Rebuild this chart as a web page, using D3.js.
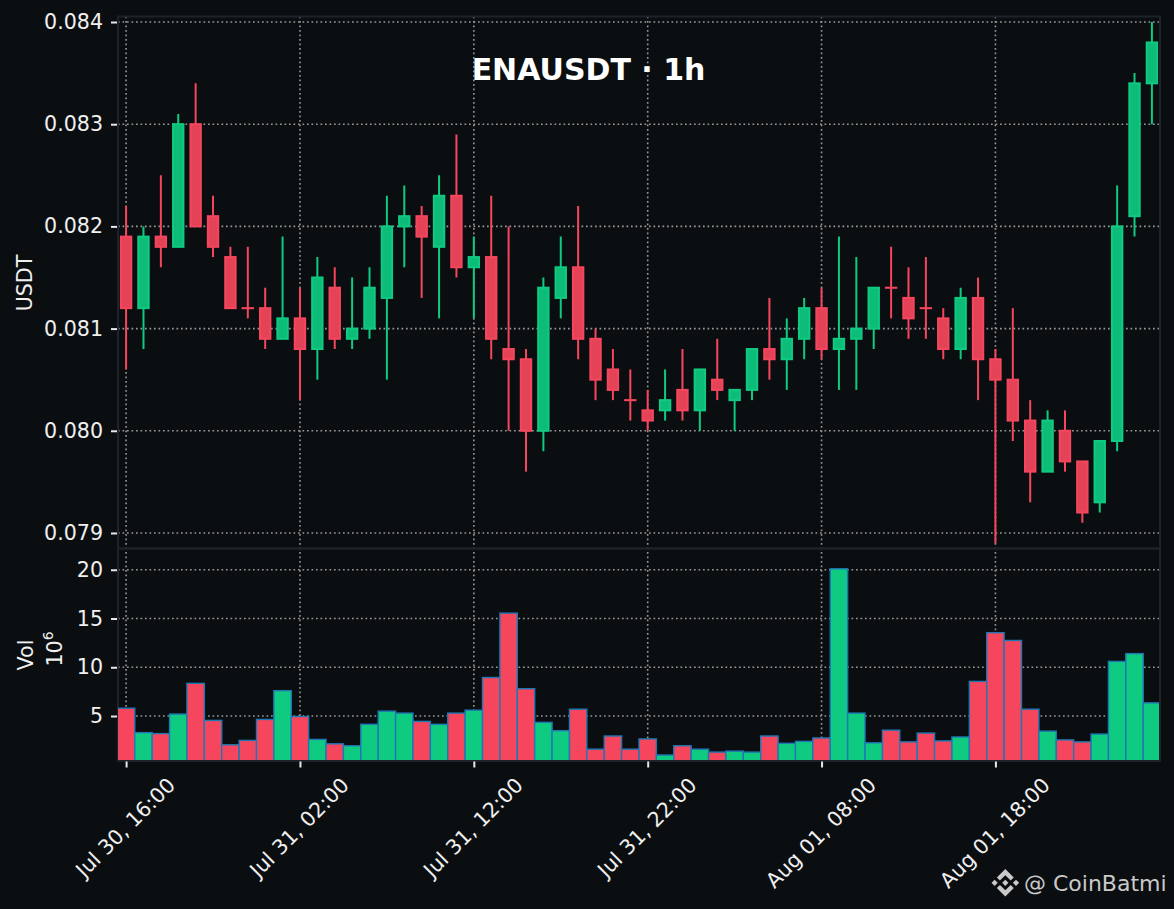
<!DOCTYPE html>
<html><head><meta charset="utf-8">
<script src="https://cdn.jsdelivr.net/npm/d3@7"></script>
<style>html,body{margin:0;padding:0;background:#0b0e11;overflow:hidden}svg{display:block}text{font-family:"DejaVu Sans",sans-serif}</style>
</head><body><div id="c"></div>
<script>
const startTime = "2024-07-30T16:00:00Z";
const opens = [.0819,.0812,.0819,.0818,.0830,.0821,.0817,.0812,.0812,.0809,.0811,.0808,.0814,.0809,.0810,.0813,.0820,.0821,.0818,.0823,.0816,.0817,.0808,.0807,.0800,.0813,.0816,.0809,.0806,.0803,.0802,.0802,.0804,.0802,.0805,.0803,.0804,.0808,.0807,.0809,.0812,.0808,.0809,.0810,.0814,.0813,.0812,.0811,.0808,.0813,.0807,.0805,.0801,.0796,.0800,.0797,.0793,.0799,.0821,.0834];
const highs = [.0822,.0820,.0825,.0831,.0834,.0823,.0818,.0818,.0814,.0819,.0814,.0817,.0816,.0815,.0816,.0823,.0824,.0822,.0825,.0829,.0819,.0823,.0820,.0808,.0815,.0819,.0822,.0810,.0808,.0806,.0804,.0806,.0808,.0806,.0809,.0804,.0808,.0813,.0811,.0813,.0814,.0819,.0817,.0814,.0818,.0816,.0817,.0812,.0814,.0815,.0808,.0812,.0803,.0802,.0802,.0797,.0799,.0824,.0835,.0840];
const lows = [.0806,.0808,.0816,.0818,.0820,.0817,.0812,.0811,.0808,.0809,.0803,.0805,.0808,.0808,.0809,.0805,.0816,.0813,.0811,.0815,.0811,.0807,.0800,.0796,.0798,.0811,.0807,.0803,.0803,.0801,.0800,.0801,.0801,.0800,.0803,.0800,.0803,.0805,.0804,.0807,.0807,.0804,.0804,.0808,.0811,.0809,.0809,.0807,.0807,.0803,.0789,.0799,.0793,.0796,.0796,.0791,.0792,.0798,.0819,.0830];
const closes = [.0812,.0819,.0818,.0830,.0820,.0818,.0812,.0812,.0809,.0811,.0808,.0815,.0809,.0810,.0814,.0820,.0821,.0819,.0823,.0816,.0817,.0809,.0807,.0800,.0814,.0816,.0809,.0805,.0804,.0803,.0801,.0803,.0802,.0806,.0804,.0804,.0808,.0807,.0809,.0812,.0808,.0809,.0810,.0814,.0814,.0811,.0812,.0808,.0813,.0807,.0805,.0801,.0796,.0801,.0797,.0792,.0799,.0820,.0834,.0838];
const volumes = [5.8,3.3,3.2,5.2,8.35,4.55,2.05,2.5,4.65,7.6,4.95,2.6,2.15,1.95,4.15,5.5,5.3,4.45,4.15,5.3,5.6,8.95,15.55,7.8,4.35,3.5,5.7,1.6,2.95,1.6,2.65,1.0,1.95,1.6,1.3,1.4,1.3,2.95,2.2,2.4,2.75,20.1,5.3,2.25,3.55,2.35,3.25,2.45,2.85,8.55,13.55,12.75,5.7,3.45,2.55,2.35,3.15,10.6,11.4,6.35];
const priceTicks = [.079,.080,.081,.082,.083,.084];
const volumeTicks = [5,10,15,20];
const tickEvery = 10;
const title = "ENAUSDT · 1h";
const watermark = "@ CoinBatmi";

const W=1174,H=909, L=118, R=1160, T=16.5, D=548.5, B=760.5;
const UP="#0ecb81", DOWN="#f6465d", BG="#0b0e11", FRAME="#1e2329", GRID="#969696", TXT="#f0f0f0", FS=20.6;
const HOUR=3600e3, t0=new Date(startTime).getTime();
const times=opens.map((_,i)=>new Date(t0+i*HOUR));
const x=d3.scaleUtc().domain([new Date(t0-.5*HOUR),new Date(t0+59.5*HOUR)]).range([117.4,1160.6]);
const y=d3.scaleLinear().domain([.078848,.084054]).range([D,T]);
const v=d3.scaleLinear().domain([.49,22.18]).range([B-.5,D]);
const step=x(times[1])-x(times[0]);
const xTicks=times.filter((_,i)=>i%tickEvery===0);
const svg=d3.select("#c").append("svg").attr("width",W).attr("height",H);
svg.append("rect").attr("width",W).attr("height",H).attr("fill",BG);
svg.append("defs").append("clipPath").attr("id","plot").append("rect").attr("x",L).attr("y",T).attr("width",R-L).attr("height",B-T);

const dash="1.7 2.8";
// grid
const g=svg.append("g").attr("stroke",GRID).attr("stroke-width",1.6).attr("stroke-dasharray",dash);
g.selectAll(".v").data(xTicks).join("line").attr("x1",d=>x(d)).attr("x2",d=>x(d)).attr("y1",T).attr("y2",B);
g.selectAll(".p").data(priceTicks).join("line").attr("x1",L).attr("x2",R).attr("y1",d=>y(d)).attr("y2",d=>y(d));
g.selectAll(".q").data(volumeTicks).join("line").attr("x1",L).attr("x2",R).attr("y1",d=>v(d)).attr("y2",d=>v(d));

// frame
const f=svg.append("g").attr("fill","none").attr("stroke",FRAME).attr("stroke-width",2);
f.append("rect").attr("x",L).attr("y",T).attr("width",R-L).attr("height",D-T);
f.append("rect").attr("x",L).attr("y",D).attr("width",R-L).attr("height",B-D+.5);

// candles
const idx=d3.range(opens.length), col=i=>closes[i]>opens[i]?UP:DOWN;
const cg=svg.append("g").attr("clip-path","url(#plot)");
cg.selectAll(".w").data(idx).join("line").attr("x1",i=>x(times[i])).attr("x2",i=>x(times[i]))
  .attr("y1",i=>y(highs[i])).attr("y2",i=>y(lows[i])).attr("stroke",col).attr("stroke-width",2);
const bw=10.4;
cg.selectAll(".b").data(idx).join("rect").attr("x",i=>x(times[i])-bw/2).attr("width",bw)
  .attr("y",i=>y(Math.max(opens[i],closes[i]))).attr("height",i=>Math.abs(y(opens[i])-y(closes[i])))
  .attr("fill",BG);
cg.selectAll(".c").data(idx).join("rect").attr("x",i=>x(times[i])-bw/2).attr("width",bw)
  .attr("y",i=>y(Math.max(opens[i],closes[i]))).attr("height",i=>Math.max(.05,Math.abs(y(opens[i])-y(closes[i]))))
  .attr("fill",col).attr("fill-opacity",.92).attr("stroke",col).attr("stroke-width",2);

// volume
const vg=svg.append("g").attr("clip-path","url(#plot)");
vg.selectAll("rect").data(idx).join("rect").attr("x",i=>x(times[i])-step/2).attr("width",step)
  .attr("y",i=>v(volumes[i])).attr("height",i=>v.range()[0]-v(volumes[i])+2)
  .attr("fill",col).attr("stroke","#1f77b4").attr("stroke-width",1.4);
svg.append("line").attr("x1",L).attr("x2",R).attr("y1",B+.5).attr("y2",B+.5).attr("stroke",FRAME).attr("stroke-width",2);
svg.append("line").attr("x1",R).attr("x2",R).attr("y1",T).attr("y2",B+1).attr("stroke",FRAME).attr("stroke-width",2);

// axes
function style(a){a.select(".domain").remove();a.selectAll("line").attr("stroke","#e8e8e8").attr("stroke-width",2);a.selectAll("text").attr("fill",TXT).attr("font-size",FS).attr("font-family",'"DejaVu Sans",sans-serif');}
const ap=svg.append("g").attr("transform",`translate(${L-1},0)`).call(d3.axisLeft(y).tickValues(priceTicks).tickFormat(d3.format(".3f")).tickSize(6).tickPadding(8));style(ap);
const av=svg.append("g").attr("transform",`translate(${L-1},0)`).call(d3.axisLeft(v).tickValues(volumeTicks).tickFormat(d3.format("d")).tickSize(6).tickPadding(8));style(av);
const ax=svg.append("g").attr("transform",`translate(0,${B+1})`).call(d3.axisBottom(x).tickValues(xTicks).tickFormat(d3.utcFormat("%b %d, %H:%M")).tickSize(6).tickPadding(8));style(ax);
ax.selectAll("text").attr("text-anchor","end").attr("dy",0).attr("y",0).attr("dominant-baseline","central")
  .attr("transform",function(){return `translate(${this.getComputedTextLength()*.3536-1},20) rotate(-45)`;});

// titles
svg.append("text").attr("x",588.5).attr("y",80).attr("text-anchor","middle").attr("fill","#fff").attr("font-size",30).attr("font-weight","bold").text(title);
svg.append("text").attr("transform","translate(32,283) rotate(-90)").attr("text-anchor","middle").attr("fill",TXT).attr("font-size",FS).text("USDT");
svg.append("text").attr("transform","translate(33,655) rotate(-90)").attr("text-anchor","middle").attr("fill",TXT).attr("font-size",FS).text("Vol");
const e=svg.append("text").attr("transform","translate(62,649) rotate(-90)").attr("text-anchor","middle").attr("fill",TXT).attr("font-size",FS);
e.append("tspan").text("10");e.append("tspan").attr("dy",-9).attr("font-size",14).text("6");

// watermark
svg.append("path").attr("transform","translate(991.5,869) scale(.218)").attr("fill","#c9c9c9")
 .attr("d","M38.73 53.2l24.59-24.58 24.6 24.6 14.3-14.31L63.32 0 24.42 38.9l14.31 14.3zM0 63.31l14.3-14.31 14.31 14.31-14.31 14.3zM38.73 73.41l24.59 24.59 24.6-24.6 14.31 14.29-38.9 38.91-38.91-38.88-.02-.02zM98 63.31l14.3-14.31 14.31 14.3-14.31 14.32zM77.83 63.3L63.32 48.78 52.59 59.51l-1.24 1.23-2.54 2.54 14.51 14.5 14.51-14.47z");
svg.append("text").attr("x",1024).attr("y",891).attr("fill","#c9c9c9").attr("font-size",22).text(watermark);
</script></body></html>
